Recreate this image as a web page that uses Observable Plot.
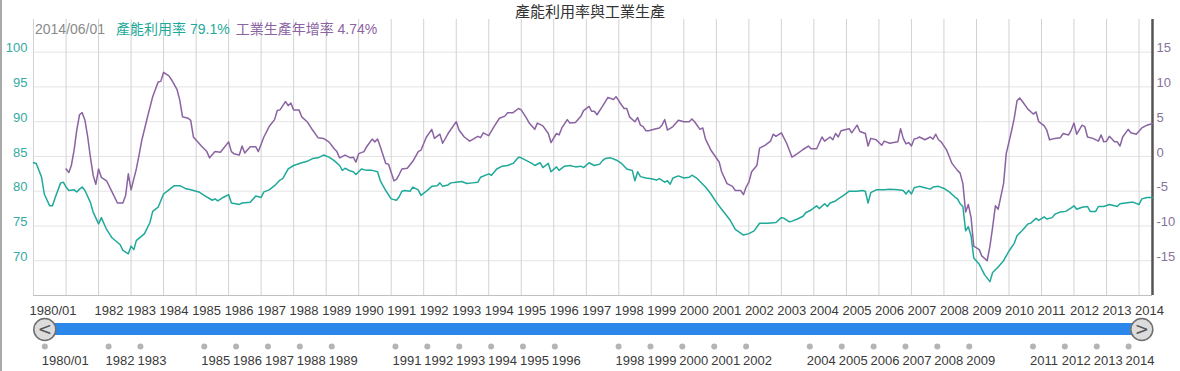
<!DOCTYPE html>
<html>
<head>
<meta charset="utf-8">
<script src="https://cdn.jsdelivr.net/npm/d3@7"></script>
<script src="https://cdn.jsdelivr.net/npm/@observablehq/plot@0.6"></script>
<style>
  html, body { margin: 0; padding: 0; background: #fff; }
  #wrap { position: relative; width: 1180px; height: 371px; overflow: hidden; background: #fff;
          font-family: "Liberation Sans", Arial, "Noto Sans CJK TC", sans-serif; }
  #border { position: absolute; left: 0; top: 0; width: 2px; height: 371px; background: #a9a9a9; }
  #title { position: absolute; left: 0; width: 1180px; top: 1px; text-align: center;
           font-family: "Noto Sans CJK TC", sans-serif; font-size: 15px; line-height: 20px; color: #333; }
  #legend { position: absolute; left: 35px; top: 19px; font-size: 14px; line-height: 20px; white-space: nowrap;
            font-family: "Liberation Sans", Arial, "Noto Sans CJK TC", sans-serif; }
  #main { position: absolute; left: 0; top: 0; }
  #nav { position: absolute; left: 0; top: 315px; }
</style>
</head>
<body>
<div id="wrap">
  <div id="main"></div>
  <div id="nav"></div>
  <div id="border"></div>
  <div id="title"></div>
  <div id="legend"></div>
</div>
<script>
const titleText = "產能利用率與工業生產";
const capName = "產能利用率";
const ipName = "工業生產年增率";
const lastDateLabel = "2014/06/01";

// 產能利用率 (left axis, %)
const capDates = ["1980-01","1980-02","1980-04","1980-05","1980-07","1980-08","1980-09","1980-11","1980-12",
"1981-01","1981-02","1981-04","1981-05","1981-06","1981-07","1981-08","1981-10","1981-11",
"1982-01","1982-02","1982-04","1982-06","1982-09","1982-10","1982-12",
"1983-01","1983-02","1983-03","1983-06","1983-08","1983-09","1983-11",
"1984-01","1984-03","1984-05","1984-07","1984-09","1984-11",
"1985-02","1985-04","1985-07","1985-08","1985-09","1985-11",
"1986-01","1986-02","1986-05","1986-06","1986-09","1986-11",
"1987-01","1987-02","1987-04","1987-06","1987-08","1987-09","1987-11",
"1988-01","1988-04","1988-06","1988-08","1988-10","1988-12",
"1989-02","1989-04","1989-06","1989-07","1989-08","1989-10","1989-11","1989-12",
"1990-02","1990-04","1990-06","1990-08","1990-09","1990-11",
"1991-01","1991-03","1991-04","1991-05","1991-06","1991-08","1991-09","1991-11","1991-12",
"1992-02","1992-04","1992-06","1992-07","1992-08","1992-10","1992-11",
"1993-01","1993-03","1993-05","1993-07","1993-09","1993-10",
"1994-01","1994-02","1994-04","1994-06","1994-08","1994-10","1994-12",
"1995-01","1995-03","1995-05","1995-06","1995-08","1995-09","1995-11","1995-12",
"1996-02","1996-03","1996-05","1996-07","1996-09","1996-11","1996-12",
"1997-02","1997-04","1997-06","1997-07","1997-08","1997-10","1997-12",
"1998-02","1998-04","1998-05","1998-06","1998-07","1998-08","1998-09","1998-11",
"1999-01","1999-03","1999-04","1999-06","1999-07","1999-08","1999-09","1999-11",
"2000-01","2000-03","2000-04","2000-06","2000-08","2000-09","2000-11",
"2001-01","2001-03","2001-06","2001-08","2001-11",
"2002-01","2002-03","2002-05","2002-08","2002-11",
"2003-01","2003-02","2003-04","2003-05","2003-07","2003-09","2003-10","2003-12",
"2004-01","2004-02","2004-03","2004-05","2004-06","2004-07","2004-09","2004-10","2004-12",
"2005-02","2005-05","2005-07","2005-08","2005-09","2005-10","2005-12",
"2006-03","2006-05","2006-08","2006-10","2006-11","2006-12",
"2007-01","2007-02","2007-04","2007-06","2007-08","2007-09","2007-11",
"2008-01","2008-03","2008-05","2008-06","2008-07","2008-08","2008-09","2008-10","2008-11","2008-12",
"2009-02","2009-04","2009-06","2009-07","2009-09","2009-11",
"2010-01","2010-03","2010-04","2010-06","2010-08","2010-09","2010-11","2010-12",
"2011-02","2011-03","2011-05","2011-06","2011-08","2011-10","2011-12",
"2012-01","2012-02","2012-04","2012-06","2012-07","2012-09","2012-10","2012-12",
"2013-02","2013-04","2013-05","2013-06","2013-08","2013-10","2013-11",
"2014-01","2014-02","2014-04","2014-06"];
const capValues = [84.1,84.0,82.0,79.6,77.9,77.9,79.1,81.2,81.3,
80.6,80.1,80.2,79.9,80.3,80.6,80.1,78.4,77.0,
75.3,76.2,74.5,73.3,72.3,71.5,71.0,
72.1,71.6,72.9,73.9,75.5,77.1,77.7,
79.6,80.2,80.8,80.8,80.4,80.2,
79.9,79.4,78.7,78.9,78.6,79.1,
79.5,78.3,78.1,78.3,78.4,79.3,
79.1,79.9,80.2,80.8,81.6,81.8,83.2,
83.7,84.1,84.3,84.7,84.8,85.2,
84.9,84.4,83.7,83.0,83.3,82.9,82.8,82.4,
83.2,83.0,83.0,82.8,81.5,80.1,
78.9,78.7,79.2,80.0,80.1,80.0,80.6,80.2,79.4,
80.0,80.7,80.8,81.2,80.7,80.9,81.2,
81.3,81.4,81.1,81.2,81.3,82.0,
82.5,82.3,83.2,83.6,83.7,84.0,84.9,
84.8,84.4,84.0,83.7,84.1,83.4,84.0,82.8,
83.5,83.0,83.6,83.7,83.5,83.6,83.4,
84.1,83.7,83.9,84.4,84.7,84.8,84.5,
84.0,83.2,83.1,83.0,81.5,82.8,82.1,81.9,
81.8,81.6,81.8,81.3,81.5,81.0,81.9,82.2,
81.9,82.0,82.3,81.8,81.0,80.6,79.6,
78.4,77.4,75.9,74.5,73.7,
73.9,74.3,75.4,75.4,75.5,
76.2,76.1,75.6,75.7,76.0,76.4,76.9,77.3,
77.6,77.9,77.5,78.2,77.8,78.3,78.6,78.9,79.4,
80.0,80.0,80.1,80.0,78.3,79.8,80.2,
80.2,80.3,80.2,80.1,79.6,80.1,
79.6,80.5,80.7,80.5,80.3,80.6,80.7,
80.4,79.9,79.2,78.9,78.2,77.8,74.3,74.9,73.6,70.4,
69.5,68.0,67.0,68.3,69.1,70.0,
71.4,72.5,73.6,74.4,75.3,75.4,76.1,75.8,
76.3,76.0,76.2,76.7,77.0,77.1,77.6,
77.9,77.4,77.7,77.8,77.1,77.1,77.8,77.8,
78.1,77.9,77.8,78.2,78.3,78.4,78.4,
78.1,78.9,79.1,79.1];

// 工業生產年增率 (right axis, %)
const ipDates = ["1981-01","1981-02","1981-03","1981-04","1981-05","1981-06","1981-07","1981-08","1981-09","1981-10","1981-11","1981-12",
"1982-01","1982-02","1982-04","1982-06","1982-08","1982-10","1982-11","1982-12",
"1983-01","1983-03","1983-04","1983-05","1983-07","1983-09","1983-11","1983-12",
"1984-01","1984-03","1984-04","1984-06","1984-07","1984-08","1984-10","1984-11","1984-12",
"1985-03","1985-05","1985-06","1985-08","1985-10","1985-11",
"1986-01","1986-02","1986-03","1986-05","1986-06","1986-07","1986-09","1986-11","1986-12",
"1987-02","1987-04","1987-06","1987-07","1987-08","1987-10","1987-11","1987-12",
"1988-01","1988-03","1988-04","1988-06","1988-08","1988-10","1988-12",
"1989-02","1989-04","1989-05","1989-06","1989-08","1989-10","1989-11","1989-12",
"1990-01","1990-03","1990-04","1990-06","1990-07","1990-08","1990-09","1990-11","1990-12",
"1991-02","1991-03","1991-04","1991-05","1991-07","1991-09","1991-11","1991-12",
"1992-02","1992-04","1992-05","1992-07","1992-08","1992-10",
"1993-01","1993-02","1993-04","1993-06","1993-09","1993-10","1993-11",
"1994-01","1994-03","1994-05","1994-07","1994-08","1994-10","1994-12",
"1995-01","1995-03","1995-04","1995-06","1995-07","1995-09","1995-11","1995-12",
"1996-02","1996-03","1996-04","1996-06","1996-07","1996-09","1996-11","1996-12",
"1997-02","1997-03","1997-04","1997-05","1997-07","1997-09","1997-11","1997-12",
"1998-02","1998-03","1998-04","1998-05","1998-07","1998-08","1998-09","1998-10","1998-11","1998-12",
"1999-02","1999-04","1999-05","1999-06","1999-07","1999-09","1999-11",
"2000-01","2000-03","2000-04","2000-05","2000-07","2000-08","2000-09","2000-11",
"2001-02","2001-03","2001-05","2001-07","2001-08","2001-10","2001-11","2001-12",
"2002-01","2002-02","2002-04","2002-05","2002-07","2002-09","2002-10","2002-11",
"2003-01","2003-03","2003-05","2003-07","2003-09","2003-11","2003-12",
"2004-02","2004-04","2004-05","2004-07","2004-08","2004-09","2004-10","2004-11",
"2005-02","2005-03","2005-05","2005-06","2005-08","2005-09","2005-10","2005-12",
"2006-02","2006-03","2006-05","2006-08","2006-09","2006-10","2006-11","2006-12",
"2007-01","2007-02","2007-03","2007-04","2007-06","2007-08","2007-09","2007-10","2007-11","2007-12",
"2008-02","2008-04","2008-05","2008-06","2008-07","2008-08","2008-09","2008-10","2008-11","2008-12",
"2009-02","2009-03","2009-05","2009-06","2009-07","2009-08","2009-09","2009-11","2009-12",
"2010-02","2010-03","2010-04","2010-05","2010-06","2010-08","2010-10","2010-11","2010-12",
"2011-02","2011-03","2011-04","2011-06","2011-08","2011-09","2011-11","2011-12",
"2012-01","2012-02","2012-04","2012-05","2012-06","2012-08","2012-10","2012-11","2012-12",
"2013-01","2013-02","2013-04","2013-05","2013-06","2013-07","2013-09","2013-10","2013-12",
"2014-02","2014-04","2014-06"];
const ipValues = [-1.8,-2.3,-1.3,0.9,3.8,6.0,6.3,5.2,2.8,-0.1,-2.7,-4.0,
-1.8,-3.0,-3.5,-5.1,-6.7,-6.7,-5.6,-2.5,
-4.8,-1.8,0.2,2.3,5.5,8.6,10.7,10.8,
12.1,11.6,11.0,9.6,8.1,5.7,5.5,5.2,2.8,
1.5,0.7,-0.2,0.7,0.6,1.1,
2.1,0.7,0.4,0.2,1.5,0.5,1.4,1.4,0.7,
2.8,4.3,5.3,6.6,6.7,7.9,7.3,7.7,
6.7,6.7,5.7,5.0,3.8,2.7,2.6,
2.1,1.1,0.7,-0.2,0.2,-0.2,-0.1,-0.8,
0.4,0.7,1.4,2.5,2.1,2.5,1.4,-1.0,-1.1,
-3.5,-3.3,-2.6,-1.8,-1.7,-0.7,0.7,0.9,
2.8,3.9,2.6,3.2,1.9,3.3,
5.0,3.8,2.8,2.2,2.9,2.7,3.4,
3.0,4.3,5.5,5.8,6.3,6.3,6.9,
6.7,5.5,4.8,3.9,4.8,4.4,3.3,2.0,
3.3,3.1,4.1,5.3,4.8,4.9,5.8,6.6,
7.2,6.5,6.5,6.0,7.2,8.5,8.2,8.6,
7.4,6.9,6.9,5.7,5.0,5.6,4.5,4.3,3.7,3.7,
3.9,4.1,4.5,5.3,3.8,4.3,5.2,
5.0,5.0,5.4,5.0,3.9,4.1,2.5,0.9,
-0.8,-2.2,-3.9,-4.3,-4.9,-4.9,-5.5,-4.4,
-3.7,-2.2,-1.3,1.2,1.6,2.2,3.2,2.9,
3.4,1.9,-0.1,0.4,1.0,1.5,1.1,
1.1,2.8,2.2,2.8,2.4,3.3,2.8,3.7,
4.0,3.4,4.5,3.6,3.3,1.5,2.6,2.4,
1.6,2.2,1.9,2.1,4.0,2.6,1.8,2.0,
1.5,2.5,2.6,2.8,2.4,2.8,2.5,3.2,2.4,2.1,
0.9,-1.0,-1.5,-2.0,-2.4,-3.9,-8.0,-6.9,-8.8,-12.9,
-13.4,-14.3,-15.0,-12.9,-10.2,-7.1,-7.6,-3.9,0.4,
3.8,5.5,8.0,8.4,7.9,6.8,6.1,6.4,5.0,
4.4,3.8,2.4,2.6,2.7,3.3,3.1,3.8,
4.8,3.2,4.5,4.3,2.8,2.6,2.2,3.1,2.1,
2.2,2.9,2.1,2.1,1.5,2.8,3.9,3.4,3.2,
4.1,4.5,4.74];

// axis ticks
const leftTicks = [70, 75, 80, 85, 90, 95, 100];
const rightOffset = 85; // right value 0 sits at left value 85
const gridYears = d3.range(1980, 2015);
const topLabelYears = [1980,1982,1983,1984,1985,1986,1987,1988,1989,1990,1991,1992,1993,1994,1995,1996,1997,1998,1999,2000,2001,2002,2003,2004,2005,2006,2007,2008,2009,2010,2011,2012,2013,2014];
const navLabelYears = [1980,1982,1983,1985,1986,1987,1988,1989,1991,1992,1993,1994,1995,1996,1998,1999,2000,2001,2002,2004,2005,2006,2007,2008,2009,2011,2012,2013,2014];

const teal = "#1fa99a";
const purple = "#8a63a2";
const parse = d3.utcParse("%Y-%m");
const yr = y => new Date(Date.UTC(y, 0, 1));
const cap = capDates.map((d, i) => ({date: parse(d), value: capValues[i]}));
const ip = ipDates.map((d, i) => ({date: parse(d), value: ipValues[i]}));
const start = parse(capDates[0]);
const end = parse(capDates[capDates.length - 1]);
const fmtYear = d => d.getUTCFullYear() === 1980 ? "1980/01" : String(d.getUTCFullYear());
const font = '"Liberation Sans", Arial, "Noto Sans CJK TC", sans-serif';

document.getElementById("title").textContent = titleText;
const lg = document.getElementById("legend");
lg.innerHTML = "";
const s1 = document.createElement("span"); s1.style.color = "#8a8a8a"; s1.textContent = lastDateLabel;
const s2 = document.createElement("span"); s2.style.color = teal; s2.style.marginLeft = "11px";
s2.textContent = capName + " " + capValues[capValues.length - 1] + "%";
const s3 = document.createElement("span"); s3.style.color = purple; s3.style.marginLeft = "6px";
s3.textContent = ipName + " " + ipValues[ipValues.length - 1] + "%";
lg.append(s1, s2, s3);

const main = Plot.plot({
  width: 1180, height: 320,
  marginLeft: 33, marginRight: 28, marginTop: 19, marginBottom: 25,
  style: {fontFamily: font, fontSize: "13px", background: "transparent"},
  x: {type: "utc", domain: [start, end]},
  y: {domain: [65, 104.7]},
  marks: [
    Plot.gridY(leftTicks, {stroke: "#e4e4e4", strokeOpacity: 1}),
    Plot.gridX(gridYears.map(yr), {stroke: "#d2d2d2", strokeOpacity: 1}),
    Plot.ruleY([65], {stroke: "#c0c0c0"}),
    Plot.axisX(topLabelYears.map(yr), {tickSize: 0, tickPadding: 10, textAnchor: "start", dx: -4, label: null,
      tickFormat: fmtYear, fill: "#3a3a3a", fontSize: 13}),
    Plot.axisY(leftTicks, {anchor: "left", tickSize: 0, tickPadding: 6, dy: -4, label: null, fill: "#35aaa3", fontSize: 13}),
    Plot.axisY(leftTicks, {anchor: "right", tickSize: 0, tickPadding: 4, dy: -4, label: null, fill: "#86739a", fontSize: 13,
      tickFormat: d => String(d - rightOffset)}),
    Plot.ruleX([end], {stroke: "#555", strokeWidth: 2.5}),
    Plot.line(cap, {x: "date", y: "value", stroke: teal, strokeWidth: 1.5}),
    Plot.line(ip, {x: "date", y: d => d.value + rightOffset, stroke: purple, strokeWidth: 1.5})
  ]
});
document.getElementById("main").append(main);

const navYears = navLabelYears.map(y => ({date: yr(y), label: y === 1980 ? "1980/01" : String(y)}));
const buttons = [{date: start, glyph: "<"}, {date: end, glyph: ">"}];
const nav = Plot.plot({
  width: 1180, height: 56,
  marginLeft: 44.3, marginRight: 38.7, marginTop: 0, marginBottom: 0,
  style: {fontFamily: font, fontSize: "13px", background: "transparent"},
  x: {type: "utc", domain: [start, end], axis: null},
  marks: [
    Plot.rect([{a: start, b: end}], {x1: "a", x2: "b", insetTop: 8, insetBottom: 36, fill: "#2b88ea"}),
    Plot.dot(buttons, {x: "date", frameAnchor: "top", dy: 14, r: 11, fill: "#dcdcdc", stroke: "#6e6e6e", strokeWidth: 1.5}),
    Plot.text(buttons, {x: "date", frameAnchor: "top", dy: 14, lineAnchor: "middle", text: "glyph", fill: "#555",
      fontSize: 17, fontFamily: "DejaVu Sans, sans-serif"}),
    Plot.dot(navYears, {x: "date", frameAnchor: "top", dy: 31, r: 3, fill: "#b4b4b4"}),
    Plot.text(navYears, {x: "date", frameAnchor: "top", dy: 45, lineAnchor: "middle", text: "label",
      textAnchor: "start", dx: -3, fill: "#3a3a3a", fontSize: 13})
  ]
});
document.getElementById("nav").append(nav);
</script>
</body>
</html>
